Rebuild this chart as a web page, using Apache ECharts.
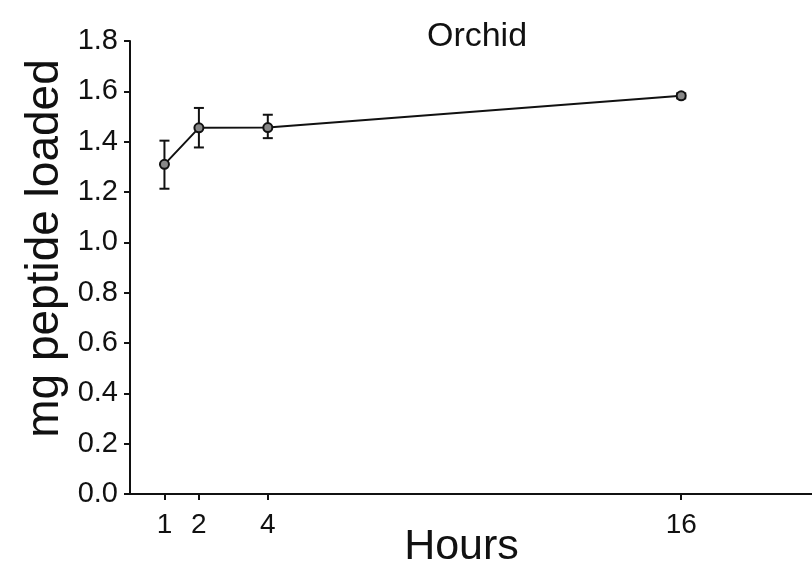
<!DOCTYPE html>
<html>
<head>
<meta charset="utf-8">
<script src="https://cdn.jsdelivr.net/npm/echarts@6/dist/echarts.min.js"></script>
<style>
  html, body { margin: 0; padding: 0; background: #fff; }
  #chart { width: 812px; height: 567px; }
</style>
</head>
<body>
<div id="chart"></div>
<script>
const hours = [1, 2, 4, 16];
const loaded = [1.31, 1.455, 1.456, 1.582];
const errLow = [1.213, 1.377, 1.414, 1.572];
const errHigh = [1.404, 1.534, 1.507, 1.592];
const xTicks = [1, 2, 4, 16];

const chart = echarts.init(document.getElementById("chart"));
const font = "Liberation Sans, Arial, sans-serif";
const ink = "#111";

const option = {
  animation: false,
  title: {
    text: "Orchid",
    left: 472,
    top: 15,
    textAlign: "center",
    textStyle: { fontFamily: font, fontSize: 34, fontWeight: "normal", color: ink },
  },
  grid: {
    left: 130,
    top: 41,
    width: 689,
    height: 453,
    outerBoundsMode: "none",
    containLabel: false,
  },
  xAxis: {
    type: "value",
    min: 0,
    max: 20,
    name: "Hours",
    nameLocation: "middle",
    nameGap: 32,
    nameMoveOverlap: false,
    nameTextStyle: { fontFamily: font, fontSize: 43, color: ink, padding: [0, 26, 0, 0] },
    axisLine: { lineStyle: { color: ink, width: 2 } },
    axisTick: {
      show: true,
      customValues: xTicks,
      length: 6,
      lineStyle: { color: ink, width: 2 },
    },
    axisLabel: {
      customValues: xTicks,
      fontFamily: font,
      fontSize: 28,
      color: ink,
      margin: 17,
    },
    splitLine: { show: false },
  },
  yAxis: {
    type: "value",
    min: 0,
    max: 1.8,
    interval: 0.2,
    name: "mg peptide loaded",
    nameLocation: "middle",
    nameGap: 62,
    nameMoveOverlap: false,
    nameTextStyle: { fontFamily: font, fontSize: 46, color: ink, padding: [0, 0, 0, 38] },
    axisLine: { show: true, lineStyle: { color: ink, width: 2 } },
    axisTick: { show: true, length: 6, lineStyle: { color: ink, width: 2 } },
    axisLabel: {
      fontFamily: font,
      fontSize: 29,
      color: ink,
      margin: 12,
      formatter: (v) => v.toFixed(1),
    },
    splitLine: { show: false },
  },
  series: [
    {
      type: "line",
      data: hours.map((h, i) => [h, loaded[i]]),
      symbol: "circle",
      symbolSize: 9,
      lineStyle: { color: ink, width: 2 },
      itemStyle: { color: "#888", borderColor: ink, borderWidth: 2 },
      z: 3,
    },
    {
      type: "custom",
      data: hours.map((h, i) => [h, errLow[i], errHigh[i]]),
      renderItem: (params, api) => {
        const lo = api.coord([api.value(0), api.value(1)]);
        const hi = api.coord([api.value(0), api.value(2)]);
        const cap = 5;
        const style = { stroke: ink, lineWidth: 2 };
        return {
          type: "group",
          children: [
            { type: "line", shape: { x1: lo[0], y1: lo[1], x2: hi[0], y2: hi[1] }, style },
            { type: "line", shape: { x1: lo[0] - cap, y1: lo[1], x2: lo[0] + cap, y2: lo[1] }, style },
            { type: "line", shape: { x1: hi[0] - cap, y1: hi[1], x2: hi[0] + cap, y2: hi[1] }, style },
          ],
        };
      },
      z: 2,
    },
  ],
};

chart.setOption(option);
</script>
</body>
</html>
